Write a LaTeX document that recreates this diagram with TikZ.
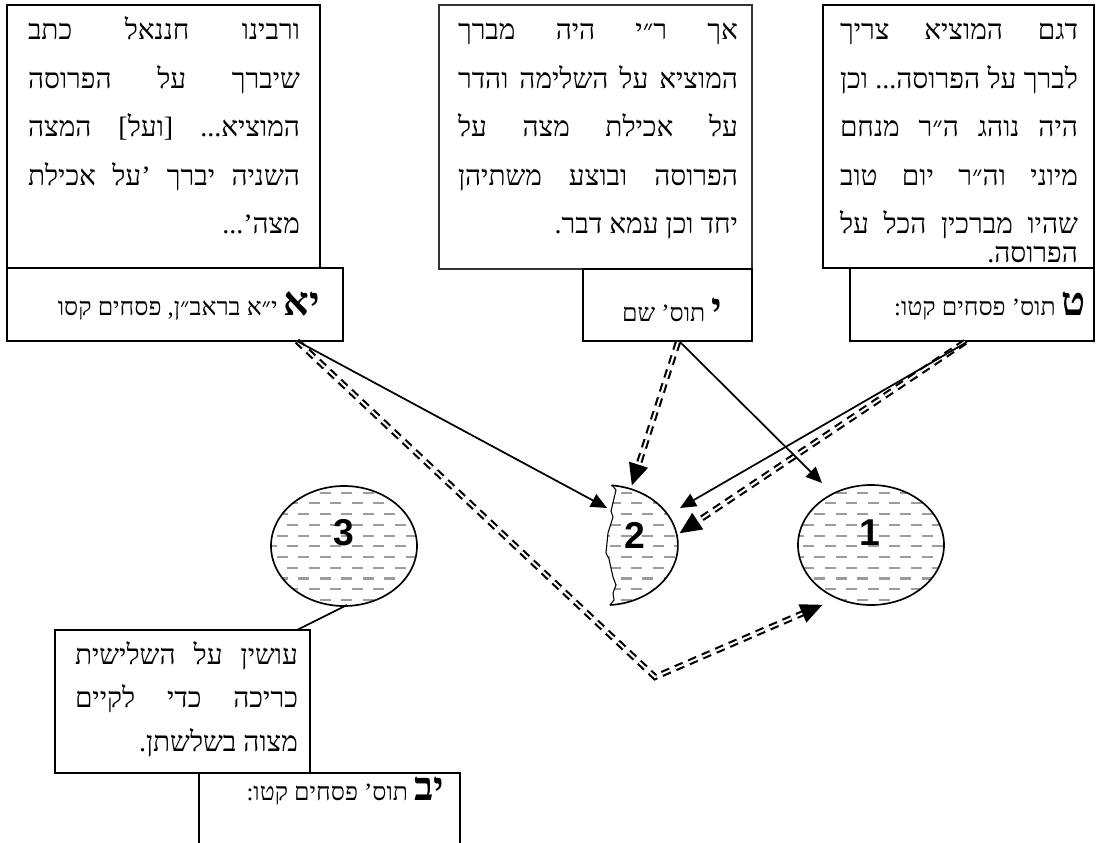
\documentclass[tikz,border=0pt]{standalone}
\usepackage{fontspec}
\usetikzlibrary{calc,arrows.meta,shapes.geometric}
\TeXXeTstate=1
\newfontfamily\heb[Script=Hebrew]{Liberation Serif}
\newfontfamily\numfont{Liberation Sans}
\definecolor{patgray}{HTML}{9C9C9C}
\definecolor{frameB}{HTML}{333333}
\newcommand\hl[1]{\hbox to \hsize{\beginR #1\endR}}
\newcommand\Bigletters{\heb\bfseries\fontsize{30pt}{30pt}\selectfont}
\newcommand\fattip[2]{%
  \path ($(#1)!16pt!(#2)$) coordinate (tb);
  \fill ($(#1)!-0.3pt!(#2)$) -- ($(tb)!7.5pt!90:(#1)$) -- ($(tb)!7.5pt!-90:(#1)$) -- cycle;}
\tikzset{
  frame/.style={draw, line width=1.25pt, anchor=north west, inner sep=0pt, outer sep=0pt},
  thinframe/.style={frame, line width=0.8pt, draw=frameB},
  htxt/.style={inner sep=0pt, outer sep=0pt, font={\heb\fontsize{21pt}{36.4pt}\selectfont}},
  lbl/.style={inner sep=0pt, outer sep=0pt, anchor=base east, font={\heb\fontsize{18.6pt}{24pt}\selectfont}},
  num/.style={inner sep=0pt, font={\numfont\bfseries\fontsize{28pt}{28pt}\selectfont}},
  plate/.style={ellipse, draw, line width=1.25pt, minimum width=109.5pt, minimum height=90pt, inner sep=0pt},
  solidarrow/.style={draw, line width=1.3pt, -{Triangle[length=12pt,width=10.5pt]}},
  dbl/.style={draw, line width=1.6pt, double=white, double distance=1.5pt, dash pattern=on 6.5pt off 4.5pt},
  pat/.style={draw=patgray, line width=1.6pt, dash pattern=on 8.25pt off 7.875pt},
}
\begin{document}
\begin{tikzpicture}[x=0.75pt, y=-0.75pt]
\useasboundingbox (0,0) rectangle (1101,843);
\clip (0,0) rectangle (1101,843);

% plate centres
\coordinate (o1) at (871,545);
\coordinate (o3) at (344,546);
\coordinate (o2) at (606,545);
\coordinate (c2top) at (612,485);
\coordinate (c2bot) at (610,605);

% hatch fill
\begin{scope}
  \clip (o1) ellipse [x radius=54.75pt, y radius=45pt]
        (o3) ellipse [x radius=54.75pt, y radius=45pt]
        (c2top) -- (616,490) -- (611,511) -- (613,517) -- (608,533) -- (606,553) -- (609,559) -- (613,577) -- (616,585) -- (613,593) -- (614,600) -- (c2bot)
        arc[start angle=-86, end angle=85, x radius=54.75pt, y radius=45pt] -- cycle;
  \foreach \k in {-1,...,6} \draw[pat] (-3,{492.7+21.44*\k}) -- (1101,{492.7+21.44*\k});
  \foreach \k in {-1,...,5} \draw[pat] (-13.75,{503.42+21.44*\k}) -- (1101,{503.42+21.44*\k});
\end{scope}

% plates
\node[plate] (c1) at (o1) {};
\node[plate] (c3) at (o3) {};
\draw[line width=1.25pt] (c2bot) arc[start angle=-86, end angle=85, x radius=54.75pt, y radius=45pt];
\draw[line width=0.8pt] (c2top) -- (616,490) -- (611,511) -- (613,517) -- (608,533) -- (606,553) -- (609,559) -- (613,577) -- (616,585) -- (613,593) -- (614,600) -- (c2bot);

\node[num] (n1) at (870,533) {1};
\node[num] (n2) at (635,535) {2};
\node[num] (n3) at (344,533) {3};

% boxes
\node[frame, minimum width=234.75pt, minimum height=197.25pt] (boxA) at (7,5) {};
\node[frame, minimum width=252pt, minimum height=54.75pt] (labA) at (7,268) {};
\node[thinframe, minimum width=234.75pt, minimum height=198pt] (boxB) at (439,5) {};
\node[frame, minimum width=126.75pt, minimum height=54pt] (labB) at (583,269) {};
\node[frame, minimum width=203.25pt, minimum height=197.25pt] (boxC) at (823,5) {};
\node[frame, minimum width=183pt, minimum height=54.75pt] (labC) at (850,268) {};
\node[frame, minimum width=191.25pt, minimum height=107.25pt] (boxD) at (55,630) {};
\node[frame, minimum width=195.75pt, minimum height=67.5pt] (labD) at (199,773) {};

% connector end points
\coordinate (sA) at (297,341);
\coordinate (vA) at (655,677);
\coordinate (t1d) at (822,605);
\coordinate (sB2) at (678,342);
\coordinate (t2d) at (632,485);
\coordinate (sC2) at (965,342);
\coordinate (t2e) at (680,533);
\coordinate (t2a) at (607,508);
\coordinate (sB) at (680,342);
\coordinate (t1a) at (822,483);
\coordinate (sC) at (967,342);
\coordinate (t2b) at (680,508);
\coordinate (c3p) at (347,605);
\coordinate (dtop) at (297,630);

% double dashed connectors
\draw[dbl, shorten >=12pt] (sA) -- (vA) -- (t1d);
\fattip{t1d}{vA}
\draw[dbl, shorten >=12pt] (sB2) -- (t2d);
\fattip{t2d}{sB2}
\draw[dbl, shorten >=12pt] (sC2) -- (t2e);
\fattip{t2e}{sC2}

% solid connectors
\draw[solidarrow] (sA) -- (t2a);
\draw[solidarrow] (sB) -- (t1a);
\draw[solidarrow] (sC) -- (t2b);
\draw[line width=1.2pt] (c3p) -- (dtop);

% texts
\node[htxt, anchor=base east] (tA) at (300,39.5) {\vtop{\hsize=204pt
 \hl{ורבינו\hfill חננאל\hfill כתב}
 \hl{שיברך\hfill על\hfill הפרוסה}
 \hl{המוציא...\hfill [ועל]\hfill המצה}
 \hl{השניה\hfill יברך\hfill ’על\hfill אכילת}
 \hl{מצה’...\hfill}}};

\node[htxt, anchor=base east] (tB) at (738,39.5) {\vtop{\hsize=210pt
 \hl{אך\hfill ר״י\hfill היה\hfill מברך}
 \hl{המוציא\hfill על\hfill השלימה\hfill והדר}
 \hl{על\hfill אכילת\hfill מצה\hfill על}
 \hl{הפרוסה\hfill ובוצע\hfill משתיהן}
 \hl{יחד וכן עמא דבר.\hfill}}};

\node[htxt, anchor=base east] (tC) at (1078,39.5) {\vtop{\hsize=178.5pt
 \hl{דגם\hfill המוציא\hfill צריך}
 \hl{לברך\hfill על\hfill הפרוסה...\hfill וכן}
 \hl{היה\hfill נוהג\hfill ה״ר\hfill מנחם}
 \hl{מיוני\hfill וה״ר\hfill יום\hfill טוב}
 \hl{שהיו\hfill מברכין\hfill הכל\hfill על}
 \vskip-14.6pt
 \hl{הפרוסה.\hfill}}};

\node[htxt, anchor=base east] (tD) at (298,664.5) {\vtop{\hsize=167.25pt \baselineskip=32.6pt
 \hl{עושין\hfill על\hfill השלישית}
 \hl{כריכה\hfill כדי\hfill לקיים}
 \hl{מצוה בשלשתן.\hfill}}};

\node[lbl] (lA) at (320,315) {\beginR{\Bigletters יא} י״א בראב״ן, פסחים קסו\endR};
\node[lbl] (lB) at (722,321) {\beginR{\Bigletters י} תוס’ שם\endR};
\node[lbl] (lC) at (1086,315) {\beginR{\Bigletters ט} תוס’ פסחים קטו:\endR};
\node[lbl] (lD) at (444,800) {\beginR{\Bigletters יב} תוס’ פסחים קטו:\endR};
\end{tikzpicture}
\end{document}
